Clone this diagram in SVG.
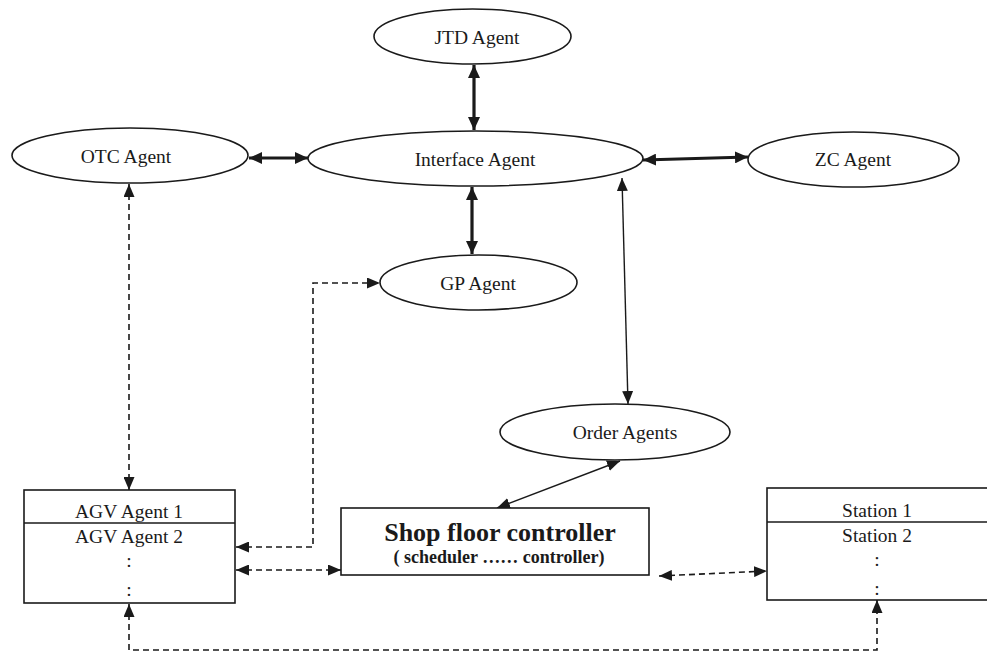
<svg xmlns="http://www.w3.org/2000/svg" width="987" height="653" viewBox="0 0 987 653">
  <style>
    .bg { fill: #ffffff; }
    .node { fill: #ffffff; stroke: #1a1a1a; stroke-width: 1.6; }
    .div { stroke: #1a1a1a; stroke-width: 1.6; fill: none; }
    .lbl { font-family: "Liberation Serif", "Times New Roman", serif; font-size: 19.5px; fill: #1a1a1a; text-anchor: middle; }
    .title { font-family: "Liberation Serif", "Times New Roman", serif; font-size: 26px; font-weight: bold; fill: #1a1a1a; text-anchor: middle; }
    .sub { font-family: "Liberation Serif", "Times New Roman", serif; font-size: 18px; font-weight: bold; fill: #1a1a1a; text-anchor: middle; }
    .thick { fill: none; stroke: #1a1a1a; stroke-width: 3.2; marker-start: url(#ahBig); marker-end: url(#ahBig); }
    .thin { fill: none; stroke: #1a1a1a; stroke-width: 1.4; marker-start: url(#ah); marker-end: url(#ah); }
    .dash { fill: none; stroke: #1a1a1a; stroke-width: 1.6; stroke-dasharray: 6 4; marker-start: url(#ah); marker-end: url(#ah); }
  </style>
  <defs>
    <marker id="ah" viewBox="0 0 13 11" refX="13" refY="5.5" markerWidth="13" markerHeight="11" markerUnits="userSpaceOnUse" orient="auto-start-reverse">
      <path d="M0,0 L13,5.5 L0,11 z" fill="#1a1a1a" stroke="none"/>
    </marker>
    <marker id="ahBig" viewBox="0 0 13 12" refX="13" refY="6" markerWidth="13" markerHeight="12" markerUnits="userSpaceOnUse" orient="auto-start-reverse">
      <path d="M0,0 L13,6 L0,12 z" fill="#1a1a1a" stroke="none"/>
    </marker>
  </defs>
  <rect class="bg" x="0" y="0" width="987" height="653"/>

  <!-- connectors -->
  <g id="connectors">
    <path class="thick" d="M474,65 L474,130"/>
    <path class="thick" d="M472,187 L472,254"/>
    <path class="thick" d="M249,158 L308,158"/>
    <path class="thick" d="M643,160 L748,157"/>
    <path class="thin" d="M622,178 L628,404"/>
    <path class="thin" d="M620,461 L497,508"/>
    <path class="dash" d="M129,184 L129,490"/>
    <path class="dash" d="M236,547 L313,547 L313,283 L380,283"/>
    <path class="dash" d="M236,570 L341,570"/>
    <path class="dash" d="M659,576 L767,571"/>
    <path class="dash" d="M129,604 L129,650 L877,650 L877,600"/>
  </g>

  <!-- agents -->
  <g id="jtd-agent">
    <ellipse class="node" cx="472.5" cy="36.5" rx="98.5" ry="27.5"/>
    <text class="lbl" x="477" y="44">JTD Agent</text>
  </g>
  <g id="interface-agent">
    <ellipse class="node" cx="475.5" cy="158.5" rx="167.5" ry="27.5"/>
    <text class="lbl" x="475" y="166">Interface Agent</text>
  </g>
  <g id="otc-agent">
    <ellipse class="node" cx="130" cy="155.5" rx="118" ry="27.5"/>
    <text class="lbl" x="126" y="163">OTC Agent</text>
  </g>
  <g id="zc-agent">
    <ellipse class="node" cx="853.5" cy="159.5" rx="105.5" ry="27.5"/>
    <text class="lbl" x="853" y="166">ZC Agent</text>
  </g>
  <g id="gp-agent">
    <ellipse class="node" cx="478.5" cy="282.5" rx="98.5" ry="27.5"/>
    <text class="lbl" x="478" y="290">GP Agent</text>
  </g>
  <g id="order-agents">
    <ellipse class="node" cx="615" cy="432" rx="115" ry="28"/>
    <text class="lbl" x="625" y="439">Order Agents</text>
  </g>

  <!-- shop floor -->
  <g id="agv-agents">
    <rect class="node" x="24" y="490" width="211" height="113"/>
    <line class="div" x1="24" y1="523" x2="235" y2="523"/>
    <text class="lbl" x="129" y="518">AGV Agent 1</text>
    <text class="lbl" x="129" y="543">AGV Agent 2</text>
    <text class="lbl" x="129" y="567">:</text>
    <text class="lbl" x="129" y="596">:</text>
  </g>
  <g id="shop-floor-controller">
    <rect class="node" x="341" y="508" width="308" height="67"/>
    <text class="title" x="500" y="541">Shop floor controller</text>
    <text class="sub" x="499" y="563">( scheduler …… controller)</text>
  </g>
  <g id="stations">
    <rect class="node" x="767" y="488" width="224" height="112"/>
    <line class="div" x1="767" y1="522" x2="991" y2="522"/>
    <text class="lbl" x="877" y="517">Station 1</text>
    <text class="lbl" x="877" y="542">Station 2</text>
    <text class="lbl" x="877" y="566">:</text>
    <text class="lbl" x="877" y="595">:</text>
  </g>
</svg>
